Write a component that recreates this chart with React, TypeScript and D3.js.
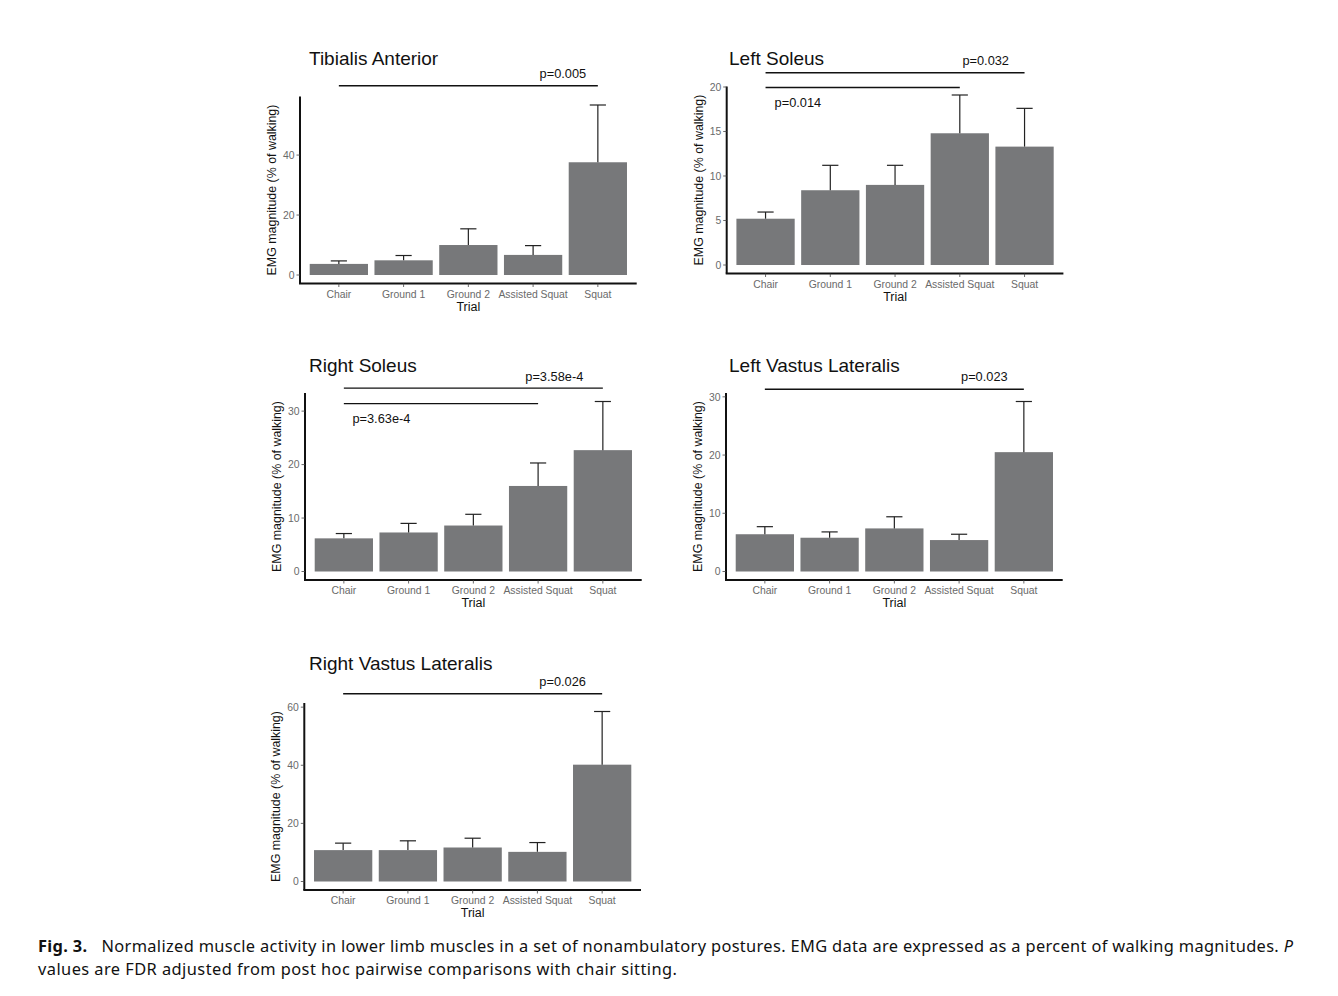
import React from "react";
import * as d3 from "d3";

// ---------- data ----------
const categories = ["Chair", "Ground 1", "Ground 2", "Assisted Squat", "Squat"];

const taMean = [3.7, 4.9, 10.0, 6.7, 37.6];
const taUpper = [4.7, 6.5, 15.4, 9.8, 56.7];
const taTicks = [0, 20, 40];

const lsMean = [5.2, 8.4, 9.0, 14.8, 13.3];
const lsUpper = [5.95, 11.2, 11.2, 19.1, 17.6];
const lsTicks = [0, 5, 10, 15, 20];

const rsMean = [6.2, 7.3, 8.6, 16.0, 22.7];
const rsUpper = [7.1, 9.0, 10.7, 20.3, 31.8];
const rsTicks = [0, 10, 20, 30];

const lvlMean = [6.4, 5.8, 7.4, 5.4, 20.5];
const lvlUpper = [7.7, 6.8, 9.4, 6.4, 29.2];
const lvlTicks = [0, 10, 20, 30];

const rvlMean = [10.8, 10.8, 11.7, 10.2, 40.2];
const rvlUpper = [13.2, 14.0, 14.9, 13.4, 58.5];
const rvlTicks = [0, 20, 40, 60];

const titles = ["Tibialis Anterior", "Left Soleus", "Right Soleus", "Left Vastus Lateralis", "Right Vastus Lateralis"];

// comparisons: [target category index, p label]
const taComparisons = [[4, "p=0.005"]];
const lsComparisons = [[4, "p=0.032"], [3, "p=0.014"]];
const rsComparisons = [[4, "p=3.58e-4"], [3, "p=3.63e-4"]];
const lvlComparisons = [[4, "p=0.023"]];
const rvlComparisons = [[4, "p=0.026"]];

const yTitle = "EMG magnitude (% of walking)";
const xTitle = "Trial";
const captionBold = "Fig. 3.";
const captionLine1 = "Normalized muscle activity in lower limb muscles in a set of nonambulatory postures. EMG data are expressed as a percent of walking magnitudes. ";
const captionItalic = "P";
const captionLine2 = "values are FDR adjusted from post hoc pairwise comparisons with chair sitting.";

// ---------- layout (positions/styles) ----------
const PLOT_W = 336.7;
const PLOT_H = 187;
const layouts = [
  { left: 300, bottom: 283.5, titleX: 309, titleY: 65,
    ann: [{ lineY: 63.1, labelX: 3.46, labelY: 65.7 }] },
  { left: 726.7, bottom: 273.5, titleX: 729, titleY: 65,
    ann: [{ lineY: 21.6, labelX: 3.4, labelY: 22.5 }, { lineY: 19.95, labelX: 0.5, labelY: 17.8 }] },
  { left: 305, bottom: 580, titleX: 309, titleY: 371.5,
    ann: [{ lineY: 34.3, labelX: 3.25, labelY: 35.6 }, { lineY: 31.4, labelX: 0.58, labelY: 27.7 }] },
  { left: 726, bottom: 580, titleX: 729, titleY: 371.5,
    ann: [{ lineY: 31.3, labelX: 3.39, labelY: 32.7 }] },
  { left: 304.3, bottom: 890, titleX: 309, titleY: 670,
    ann: [{ lineY: 64.6, labelX: 3.39, labelY: 67.4 }] },
];

const panelData = [
  { mean: taMean, upper: taUpper, ticks: taTicks, comps: taComparisons },
  { mean: lsMean, upper: lsUpper, ticks: lsTicks, comps: lsComparisons },
  { mean: rsMean, upper: rsUpper, ticks: rsTicks, comps: rsComparisons },
  { mean: lvlMean, upper: lvlUpper, ticks: lvlTicks, comps: lvlComparisons },
  { mean: rvlMean, upper: rvlUpper, ticks: rvlTicks, comps: rvlComparisons },
];

const FONT = "Liberation Sans";
const BAR = "#77787a";
const TICK_TEXT = "#6a6a6a";

function Panel({ idx }: { idx: number }) {
  const d = panelData[idx];
  const L = layouts[idx];
  const maxV = d3.max(d.upper) as number;
  const y = d3
    .scaleLinear()
    .domain([-0.05 * maxV, 1.05 * maxV])
    .range([L.bottom, L.bottom - PLOT_H]);
  const x = d3
    .scaleBand<string>()
    .domain(categories)
    .range([L.left, L.left + PLOT_W])
    .paddingInner(0.1)
    .paddingOuter(0.15);
  const step = x.step();
  const bw = x.bandwidth();
  const cx = (c: string) => (x(c) as number) + bw / 2;
  const c0 = cx(categories[0]);
  const capW = step * 0.25;
  const top = L.bottom - PLOT_H;

  return (
    <g>
      <text x={L.titleX} y={L.titleY} fontSize={19} fontFamily={FONT} fill="#111">
        {titles[idx]}
      </text>
      {categories.map((c, i) => (
        <rect
          key={"b" + i}
          x={x(c)}
          y={y(d.mean[i])}
          width={bw}
          height={y(0) - y(d.mean[i])}
          fill={BAR}
        />
      ))}
      {categories.map((c, i) => (
        <g key={"e" + i} stroke="#222" strokeWidth={1.2}>
          <line x1={cx(c)} x2={cx(c)} y1={y(d.mean[i])} y2={y(d.upper[i])} />
          <line x1={cx(c) - capW / 2} x2={cx(c) + capW / 2} y1={y(d.upper[i])} y2={y(d.upper[i])} />
        </g>
      ))}
      <line x1={L.left} x2={L.left} y1={top} y2={L.bottom} stroke="#111" strokeWidth={2} />
      <line x1={L.left - 1} x2={L.left + PLOT_W} y1={L.bottom} y2={L.bottom} stroke="#111" strokeWidth={2} />
      {d.ticks.map((t) => (
        <g key={"yt" + t}>
          <line x1={L.left - 3.5} x2={L.left} y1={y(t)} y2={y(t)} stroke="#444" strokeWidth={0.8} />
          <text
            x={L.left - 5.5}
            y={y(t)}
            dy="0.36em"
            textAnchor="end"
            fontSize={10.4}
            fontFamily={FONT}
            fill={TICK_TEXT}
          >
            {t}
          </text>
        </g>
      ))}
      {categories.map((c) => (
        <g key={"xt" + c}>
          <line x1={cx(c)} x2={cx(c)} y1={L.bottom} y2={L.bottom + 3.5} stroke="#444" strokeWidth={0.8} />
          <text
            x={cx(c)}
            y={L.bottom + 14}
            textAnchor="middle"
            fontSize={10.4}
            fontFamily={FONT}
            fill={TICK_TEXT}
          >
            {c}
          </text>
        </g>
      ))}
      <text
        x={L.left + PLOT_W / 2}
        y={L.bottom + 27}
        textAnchor="middle"
        fontSize={12.5}
        fontFamily={FONT}
        fill="#111"
      >
        {xTitle}
      </text>
      <text
        transform={`translate(${L.left - 24},${(top + L.bottom) / 2}) rotate(-90)`}
        textAnchor="middle"
        fontSize={12.4}
        fontFamily={FONT}
        fill="#111"
      >
        {yTitle}
      </text>
      {d.comps.map((cmp, k) => {
        const a = L.ann[k];
        const target = cmp[0] as number;
        return (
          <g key={"s" + k}>
            <line
              x1={c0}
              x2={cx(categories[target])}
              y1={y(a.lineY)}
              y2={y(a.lineY)}
              stroke="#111"
              strokeWidth={1.4}
            />
            <text
              x={c0 + a.labelX * step}
              y={y(a.labelY)}
              textAnchor="middle"
              fontSize={12.8}
              fontFamily={FONT}
              fill="#111"
            >
              {cmp[1] as string}
            </text>
          </g>
        );
      })}
    </g>
  );
}

export default function App() {
  const capFont = "Noto Sans";
  return (
    <svg
      width={1338}
      height={996}
      style={{ position: "absolute", left: 0, top: 0, background: "#fff" }}
    >
      {panelData.map((_, i) => (
        <Panel key={i} idx={i} />
      ))}
      <text
        x={38}
        y={952}
        fontSize={16.4}
        fontFamily={capFont}
        fill="#111"
        textLength={1255}
        lengthAdjust="spacing"
      >
        <tspan fontWeight="bold">{captionBold}</tspan>
        <tspan dx={14}>{captionLine1}</tspan>
        <tspan fontStyle="italic">{captionItalic}</tspan>
      </text>
      <text
        x={38}
        y={975}
        fontSize={16.4}
        fontFamily={capFont}
        fill="#111"
        textLength={639}
        lengthAdjust="spacing"
      >
        {captionLine2}
      </text>
    </svg>
  );
}
